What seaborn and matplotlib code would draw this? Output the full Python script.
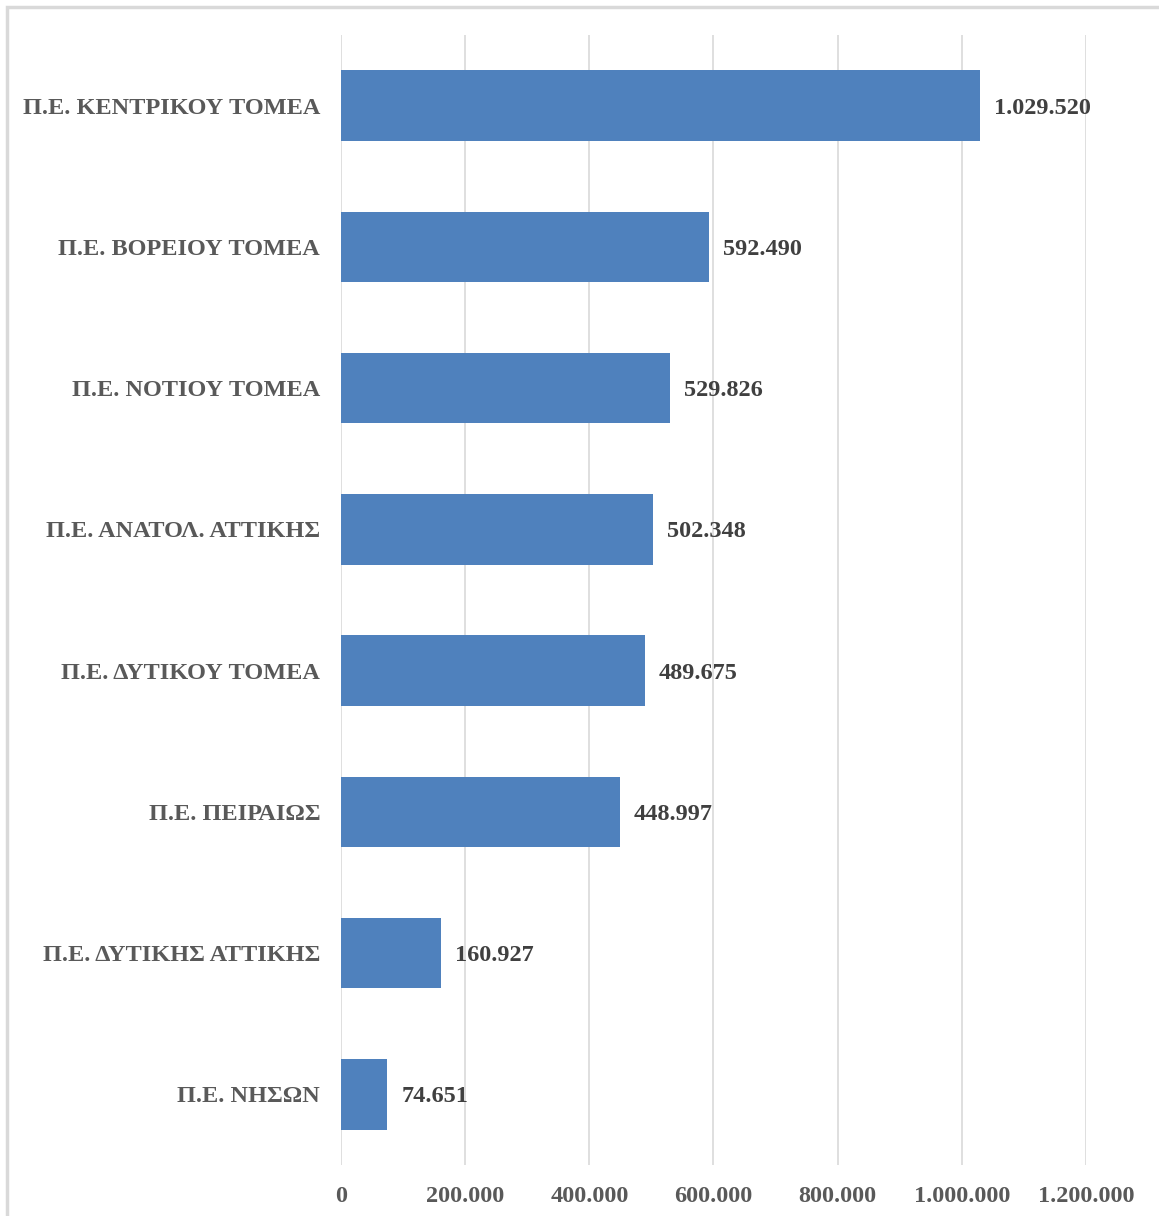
import matplotlib
matplotlib.use("Agg")
import matplotlib.pyplot as plt
import matplotlib.ticker as mticker
from matplotlib.patches import Rectangle
import seaborn as sns
import pandas as pd

# Population per regional unit of Attica
regions = [
    "Π.Ε. ΚΕΝΤΡΙΚΟΥ ΤΟΜΕΑ",
    "Π.Ε. ΒΟΡΕΙΟΥ ΤΟΜΕΑ",
    "Π.Ε. ΝΟΤΙΟΥ ΤΟΜΕΑ",
    "Π.Ε. ΑΝΑΤΟΛ. ΑΤΤΙΚΗΣ",
    "Π.Ε. ΔΥΤΙΚΟΥ ΤΟΜΕΑ",
    "Π.Ε. ΠΕΙΡΑΙΩΣ",
    "Π.Ε. ΔΥΤΙΚΗΣ ΑΤΤΙΚΗΣ",
    "Π.Ε. ΝΗΣΩΝ",
]
population = [1029520, 592490, 529826, 502348, 489675, 448997, 160927, 74651]
x_ticks = [0, 200000, 400000, 600000, 800000, 1000000, 1200000]

df = pd.DataFrame({"region": regions, "population": population})

sns.set_theme(style="white")
plt.rcParams["font.family"] = ["Liberation Serif", "DejaVu Serif"]
plt.rcParams["font.weight"] = "bold"

fig = plt.figure(figsize=(11.59, 12.16), dpi=100)
ax = fig.add_axes([0.2942, 0.0419, 0.937 - 0.2942, 0.9712 - 0.0419])

sns.barplot(data=df, x="population", y="region", orient="h",
            color="#4F81BD", saturation=1, width=0.5, ax=ax,
            edgecolor="none", zorder=3)

def dotted(v):
    return f"{int(round(v)):,}".replace(",", ".")

ax.set_xlim(0, 1200000)
ax.set_ylim(len(regions) - 0.5, -0.5)
ax.set_xticks(x_ticks)
ax.xaxis.set_major_formatter(mticker.FuncFormatter(lambda v, p: dotted(v)))
ax.grid(axis="x", color="#D9D9D9", linewidth=1.2, zorder=0)
ax.grid(axis="y", visible=False)
for s in ax.spines.values():
    s.set_visible(False)
ax.set_xlabel("")
ax.set_ylabel("")
ax.tick_params(axis="both", length=0)
ax.tick_params(axis="y", pad=15, labelsize=17.5, labelcolor="#595959")
ax.tick_params(axis="x", pad=15, labelsize=17.5, labelcolor="#595959")
for lbl in ax.get_xticklabels():
    lbl.set_fontweight("bold")
for lbl in ax.get_yticklabels():
    lbl.set_fontweight("bold")
    lbl.set_va("center_baseline")

for i, v in enumerate(population):
    ax.annotate(dotted(v), xy=(v, i), xytext=(10, 0), textcoords="offset points",
                ha="left", va="center_baseline", fontsize=17.5, fontweight="bold",
                color="#404040")

# Light frame around the chart area
fig.patches.append(Rectangle((7 / 1159, -0.01), 1.1, 1 - 7 / 1216 + 0.01,
                             transform=fig.transFigure, fill=False,
                             edgecolor="#D9D9D9", linewidth=2.5))

fig.savefig("out.png", dpi=100, facecolor="white")
